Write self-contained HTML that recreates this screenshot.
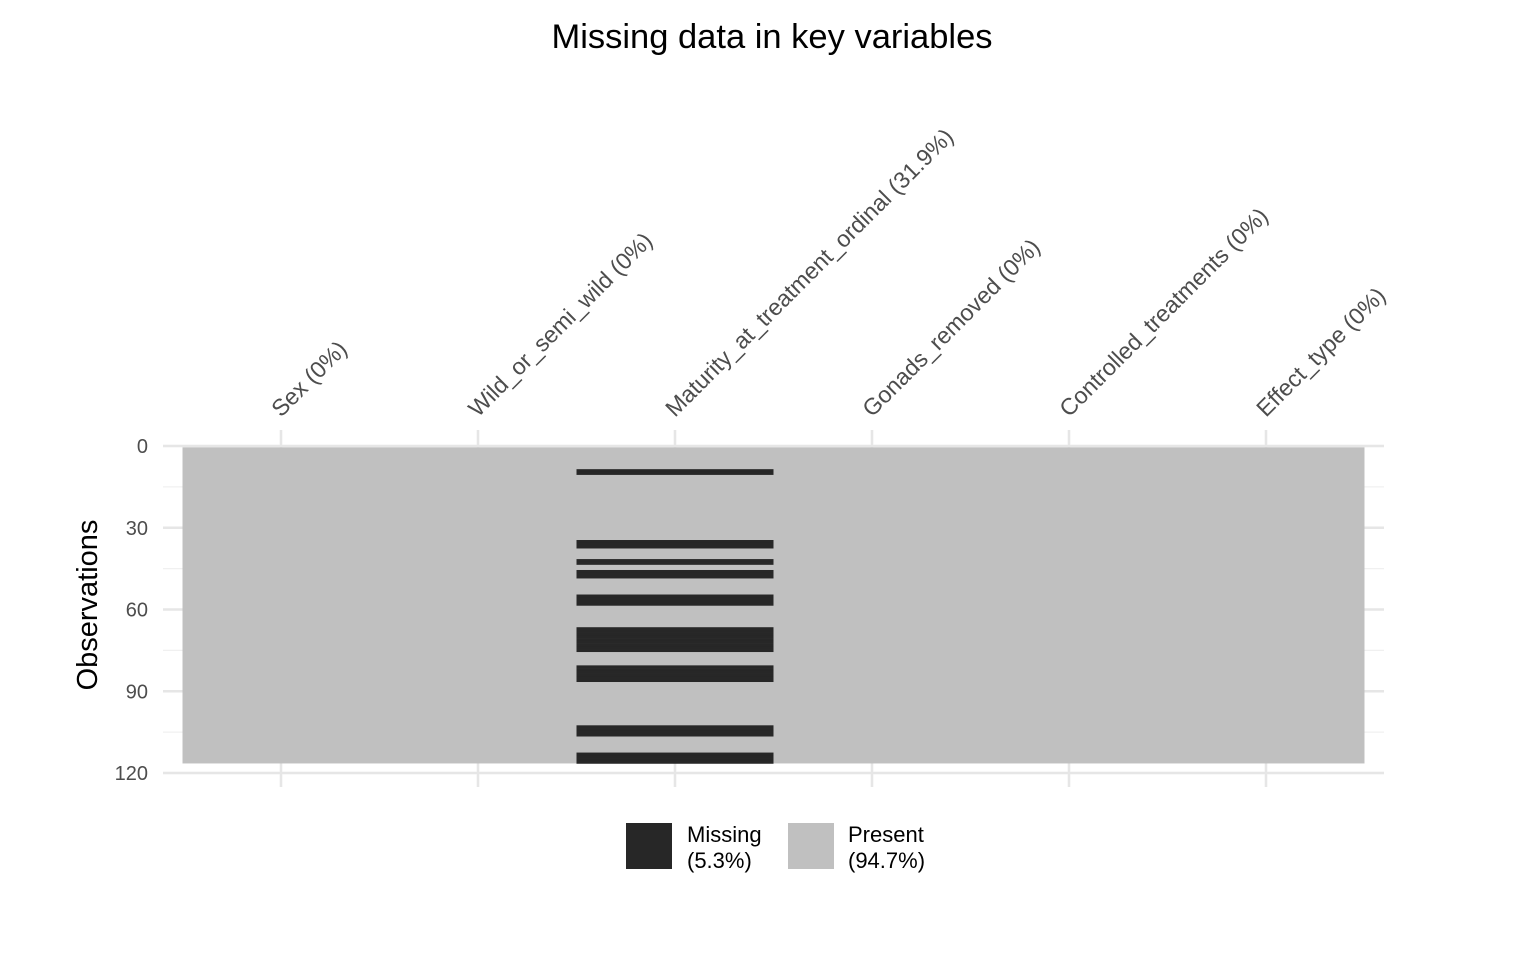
<!DOCTYPE html>
<html><head><meta charset="utf-8"><style>
body{margin:0;background:#fff;}
svg{display:block;font-family:"Liberation Sans",Arial,sans-serif;}
</style></head><body>
<svg width="1536" height="960" viewBox="0 0 1536 960">
<rect width="1536" height="960" fill="#fff"/>
<text x="772" y="48" text-anchor="middle" font-size="34.5" fill="#000">Missing data in key variables</text>
<g id="grid"></g>
<g id="tiles"></g>
<g id="xlabels"></g>
<g id="ylabels"></g>
<text transform="translate(97,605) rotate(-90)" text-anchor="middle" font-size="29" fill="#000">Observations</text>
<g>
<rect x="626" y="823" width="46" height="46" fill="#272727"/>
<text x="687" y="842" font-size="22" fill="#000">Missing</text>
<text x="687" y="868" font-size="22" fill="#000">(5.3%)</text>
<rect x="788" y="823" width="46" height="46" fill="#c0c0c0"/>
<text x="848" y="842" font-size="22" fill="#000">Present</text>
<text x="848" y="868" font-size="22" fill="#000">(94.7%)</text>
</g>
</svg>
<script>
const variables=["Sex","Wild_or_semi_wild","Maturity_at_treatment_ordinal","Gonads_removed","Controlled_treatments","Effect_type"];
const nRows=116;
const missingRowsMaturity=[9,10,35,36,37,42,43,46,47,48,55,56,57,58,67,68,69,70,71,72,73,74,75,81,82,83,84,85,86,103,104,105,106,113,114,115,116];
const missingByVar=[[],[],missingRowsMaturity,[],[],[]];
const yTicks=[0,30,60,90,120];
const yMinor=[15,45,75,105];
const NS="http://www.w3.org/2000/svg";
const x0=182.5,colW=197,yTop=446,rowH=2.725;
const xs=i=>x0+i*colW;
const ys=v=>yTop+v*rowH;
function mk(tag,attrs,parent){const e=document.createElementNS(NS,tag);for(const k in attrs)e.setAttribute(k,attrs[k]);parent.appendChild(e);return e;}
const grid=document.getElementById('grid'),tiles=document.getElementById('tiles'),xl=document.getElementById('xlabels'),yl=document.getElementById('ylabels');
yMinor.forEach(v=>{const l=mk('line',{x1:163,x2:1384,y1:ys(v),y2:ys(v),stroke:'#f0f0f0','stroke-width':1.2},grid);

});
yTicks.forEach(v=>{const l=mk('line',{x1:163,x2:1384,y1:ys(v),y2:ys(v),stroke:'#e6e6e6','stroke-width':2.5},grid);


const t=mk('text',{x:148,y:ys(v)+7,'text-anchor':'end','font-size':20,fill:'#4d4d4d'},yl);t.textContent=v;

});
variables.forEach((name,i)=>{const cx=xs(i)+colW/2;
const l=mk('line',{x1:cx,x2:cx,y1:430,y2:787,stroke:'#e6e6e6','stroke-width':2.5},grid);


const r=mk('rect',{x:xs(i),y:ys(0.5),width:colW,height:nRows*rowH,fill:'#c0c0c0'},tiles);


missingByVar[i].forEach(row=>{const m=mk('rect',{x:xs(i),y:ys(row-0.5),width:colW,height:rowH+0.3,fill:'#272727'},tiles);

});
const pct=Math.round(missingByVar[i].length/nRows*1000)/10;
const t=mk('text',{transform:`translate(${cx},${418}) rotate(-45)`,'font-size':23.2,fill:'#4d4d4d'},xl);
t.textContent=`${name} (${pct}%)`;

});
</script>
</body></html>
